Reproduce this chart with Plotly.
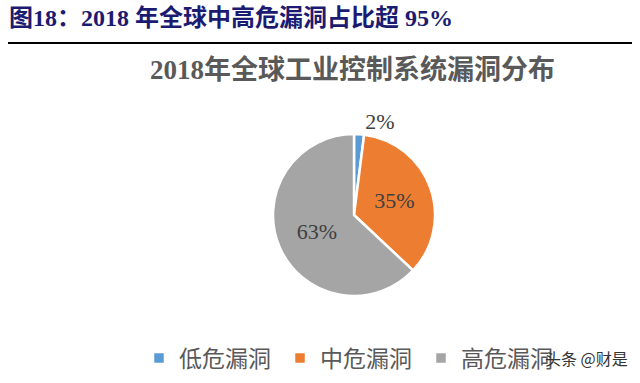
import plotly.graph_objects as go

categories = ["低危漏洞", "中危漏洞", "高危漏洞"]
values = [2, 35, 63]
colors = ["#5B9BD5", "#ED7D31", "#A5A5A5"]
text_positions = ["outside", "inside", "inside"]

header = "图18：2018 年全球中高危漏洞占比超 95%"
subtitle = "2018年全球工业控制系统漏洞分布"
watermark = "头条 @财是"

W, H = 640, 383

fig = go.Figure()
fig.add_trace(go.Pie(
    labels=categories,
    values=values,
    sort=False,
    direction="clockwise",
    rotation=0,
    marker=dict(colors=colors, line=dict(color="white", width=2.5)),
    texttemplate="%{percent:.0%}",
    textposition=text_positions,
    textfont=dict(family="Liberation Serif, Noto Sans CJK SC", size=22, color="#404040"),
    insidetextorientation="horizontal",
    domain=dict(x=[273 / W, 435 / W], y=[1 - 296 / H, 1 - 134 / H]),
    hoverinfo="label+percent",
))

fig.update_layout(
    width=W, height=H,
    margin=dict(l=0, r=0, t=0, b=0),
    paper_bgcolor="white",
    plot_bgcolor="white",
    showlegend=True,
    legend=dict(
        orientation="h",
        x=139 / W, xanchor="left",
        y=1 - 358 / H, yanchor="middle",
        entrywidth=96, entrywidthmode="pixels",
        font=dict(family="Noto Sans CJK SC", size=23, color="#595959"),
        bgcolor="rgba(0,0,0,0)",
    ),
    annotations=[
        dict(text="<b>" + header + "</b>", x=7 / W, y=1 - 18 / H, xref="paper", yref="paper",
             xanchor="left", yanchor="middle", showarrow=False,
             font=dict(family="Liberation Serif, Noto Sans CJK SC", size=24, color="#1C1B72")),
        dict(text="<b>" + subtitle + "</b>", x=352 / W, y=1 - 70 / H, xref="paper", yref="paper",
             xanchor="center", yanchor="middle", showarrow=False,
             font=dict(family="Liberation Serif, Noto Sans CJK SC", size=27, color="#595959")),
        dict(text=watermark, x=630 / W, y=1 - 358 / H, xref="paper", yref="paper",
             xanchor="right", yanchor="middle", showarrow=False,
             font=dict(family="Noto Sans CJK SC", size=16, color="#333333")),
    ],
    shapes=[
        dict(type="line", xref="paper", yref="paper", x0=8 / W, x1=632 / W,
             y0=1 - 43 / H, y1=1 - 43 / H, line=dict(color="black", width=2)),
    ],
)

fig.write_html("out.html", config={"displayModeBar": False},
               post_script="document.body.style.margin='0';document.body.style.padding='0';")
